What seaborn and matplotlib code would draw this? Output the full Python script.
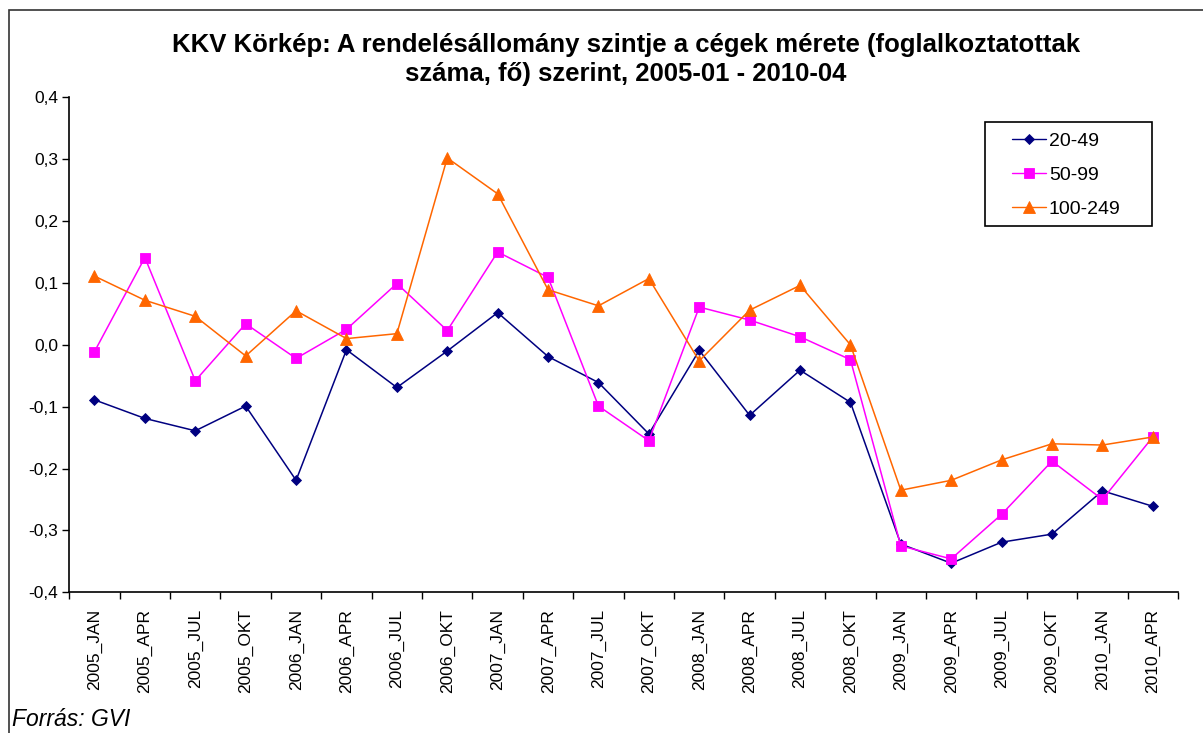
import pandas as pd
import matplotlib
matplotlib.use("Agg")
import matplotlib.pyplot as plt
from matplotlib.patches import Rectangle
from matplotlib.ticker import FixedLocator, FuncFormatter
import seaborn as sns

# Chart data
periods = ["2005_JAN", "2005_APR", "2005_JUL", "2005_OKT",
           "2006_JAN", "2006_APR", "2006_JUL", "2006_OKT",
           "2007_JAN", "2007_APR", "2007_JUL", "2007_OKT",
           "2008_JAN", "2008_APR", "2008_JUL", "2008_OKT",
           "2009_JAN", "2009_APR", "2009_JUL", "2009_OKT",
           "2010_JAN", "2010_APR"]
size_20_49 = [-0.089, -0.119, -0.139, -0.099, -0.219, -0.008, -0.069, -0.010,
              0.052, -0.019, -0.061, -0.144, -0.009, -0.114, -0.041, -0.093,
              -0.322, -0.353, -0.319, -0.306, -0.236, -0.261]
size_50_99 = [-0.011, 0.141, -0.058, 0.034, -0.022, 0.025, 0.099, 0.023,
              0.150, 0.109, -0.099, -0.155, 0.061, 0.040, 0.013, -0.024,
              -0.325, -0.346, -0.274, -0.188, -0.250, -0.149]
size_100_249 = [0.111, 0.072, 0.046, -0.018, 0.055, 0.010, 0.018, 0.302,
                0.244, 0.089, 0.063, 0.107, -0.026, 0.056, 0.096, 0.000,
                -0.235, -0.219, -0.186, -0.160, -0.162, -0.149]
series_names = ["20-49", "50-99", "100-249"]
title_lines = ["KKV Körkép: A rendelésállomány szintje a cégek mérete (foglalkoztatottak",
               "száma, fő) szerint, 2005-01 - 2010-04"]
source_note = "Forrás: GVI"

# long-form table for seaborn
rows = []
for name, values in zip(series_names, [size_20_49, size_50_99, size_100_249]):
    for i, v in enumerate(values):
        rows.append({"pos": i, "period": periods[i], "series": name, "value": v})
df = pd.DataFrame(rows)

sns.set_style("white")
plt.rcParams["font.family"] = ["Liberation Sans", "DejaVu Sans"]
plt.rcParams["text.color"] = "black"

W, H = 1203, 733
fig = plt.figure(figsize=(W / 100, H / 100), dpi=100)
ax = fig.add_axes([69.3 / W, 1 - 592.3 / H, (1178 - 69.3) / W, (592.3 - 97.3) / H])

palette = {"20-49": "#000080", "50-99": "#FF00FF", "100-249": "#FF6600"}
markers = {"20-49": "D", "50-99": "s", "100-249": "^"}
sizes = {"20-49": 5.5, "50-99": 7.5, "100-249": 8.5}

for name in series_names:
    sub = df[df["series"] == name]
    sns.lineplot(data=sub, x="pos", y="value", color=palette[name], marker=markers[name],
                 markersize=sizes[name], markeredgewidth=0.6, markeredgecolor=palette[name],
                 linewidth=1.1, label=name, ax=ax, legend=False)

# axes styling (Excel-like)
ax.set_xlim(-0.5, len(periods) - 0.5)
ax.set_ylim(-0.4, 0.4)
ax.set_xlabel("")
ax.set_ylabel("")
for side in ["top", "right"]:
    ax.spines[side].set_visible(False)
for side in ["left", "bottom"]:
    ax.spines[side].set_color("black")
    ax.spines[side].set_linewidth(1.2)

ax.set_yticks([-0.4, -0.3, -0.2, -0.1, 0.0, 0.1, 0.2, 0.3, 0.4])
ax.yaxis.set_major_formatter(FuncFormatter(lambda v, p: f"{v:.1f}".replace(".", ",").replace("-0,0", "0,0")))
ax.tick_params(axis="y", which="major", direction="out", length=5, width=1, colors="black",
               labelsize=12.5, pad=3, left=True)

ax.xaxis.set_major_locator(FixedLocator([i - 0.5 for i in range(len(periods) + 1)]))
ax.xaxis.set_minor_locator(FixedLocator(list(range(len(periods)))))
ax.xaxis.set_major_formatter(FuncFormatter(lambda v, p: ""))
ax.set_xticklabels(periods, minor=True, rotation=90)
ax.tick_params(axis="x", which="major", direction="out", length=5, width=1, colors="black", bottom=True)
ax.tick_params(axis="x", which="minor", length=0, labelsize=12.5, pad=12, colors="black")

# legend (frame drawn separately to match the reference box)
handles, labels = ax.get_legend_handles_labels()
leg = ax.legend(handles, labels, loc="upper left",
                bbox_to_anchor=(1012 / W, 1 - 132 / H), bbox_transform=fig.transFigure,
                borderaxespad=0, borderpad=0, frameon=False, fontsize=14,
                handlelength=1.75, handletextpad=0.15, labelspacing=0.85)
for line in leg.get_lines():
    line.set_linewidth(1.0)
fig.patches.append(Rectangle((984.7 / W, 1 - 225.7 / H), (1152.3 - 984.7) / W, 104 / H,
                             transform=fig.transFigure, fill=False, edgecolor="black",
                             linewidth=1.2))

# title and source note
fig.text(626 / W, 1 - 52 / H, title_lines[0], ha="center", va="baseline", fontsize=18.5,
         fontweight="bold")
fig.text(626 / W, 1 - 81 / H, title_lines[1], ha="center", va="baseline", fontsize=18.5,
         fontweight="bold")
fig.text(12 / W, 1 - 720 / H, source_note, ha="left", va="center", fontsize=16.5,
         style="italic")

# chart-area border
fig.patches.append(Rectangle((8.5 / W, -0.05), 1.1, 1 - 10 / H + 0.05, transform=fig.transFigure,
                             fill=False, edgecolor="#333333", linewidth=1.2))

fig.savefig("out.png", dpi=100, facecolor="white")
